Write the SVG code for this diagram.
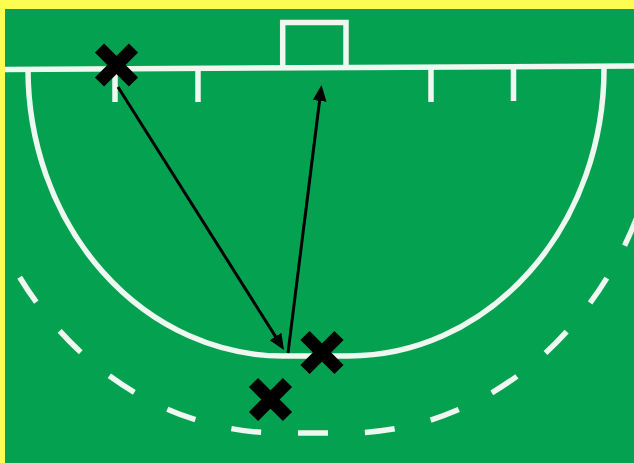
<svg xmlns="http://www.w3.org/2000/svg" width="634" height="463" viewBox="0 0 634 463">
  <defs>
    <style>
      .line { fill: none; stroke: #eef7f0; stroke-width: 5.5; }
      .dash { fill: none; stroke: #eef7f0; stroke-width: 5.5; stroke-dasharray: 30 37; stroke-dashoffset: 15; }
      .arrow { fill: none; stroke: #000; stroke-width: 3; marker-end: url(#head); }
      .cross line { stroke: #000; stroke-width: 13; stroke-linecap: butt; }
    </style>
    <marker id="head" markerUnits="userSpaceOnUse" markerWidth="16" markerHeight="14" viewBox="0 0 16 14" refX="10" refY="7" orient="auto">
      <path d="M0,0 L16,7 L0,14 z" fill="#000"/>
    </marker>
    <clipPath id="field">
      <rect x="5" y="9" width="629" height="454"/>
    </clipPath>
  </defs>

  <rect x="0" y="0" width="634" height="463" fill="#fdfc50"/>
  <rect x="5" y="9" width="629" height="454" fill="#04a250"/>

  <g id="pitch" clip-path="url(#field)">
    <path class="line" d="M5,69.5 L634,66"/>
    <path class="line" d="M282.7,68 V22.5 H346 V67"/>
    <path class="line" d="M115,68 V102 M198,68 V102 M431,67 V102 M513.5,67 V101"/>
    <path class="line" d="M28,69 A255,287 0 0 0 283,356 L349,356 A255,287 0 0 0 604,69 L604,66"/>
    <path class="dash" d="M313,433 L346.5,433 A318,364 0 0 0 664.5,69"/>
    <path class="dash" d="M313,433 L280.5,433 A318,364 0 0 1 -37.5,69"/>
  </g>

  <g id="connectors">
    <line class="arrow" x1="118" y1="87" x2="280.8" y2="344.9"/>
    <line class="arrow" x1="288" y1="353" x2="320.8" y2="91"/>
  </g>

  <g id="player1" class="cross" transform="translate(116.5,65)">
    <line x1="-17" y1="-17" x2="17" y2="17"/>
    <line x1="-17" y1="17" x2="17" y2="-17"/>
  </g>
  <g id="player2" class="cross" transform="translate(322,352.5)">
    <line x1="-17" y1="-17" x2="17" y2="17"/>
    <line x1="-17" y1="17" x2="17" y2="-17"/>
  </g>
  <g id="player3" class="cross" transform="translate(270.5,399.5)">
    <line x1="-17" y1="-17" x2="17" y2="17"/>
    <line x1="-17" y1="17" x2="17" y2="-17"/>
  </g>
</svg>
